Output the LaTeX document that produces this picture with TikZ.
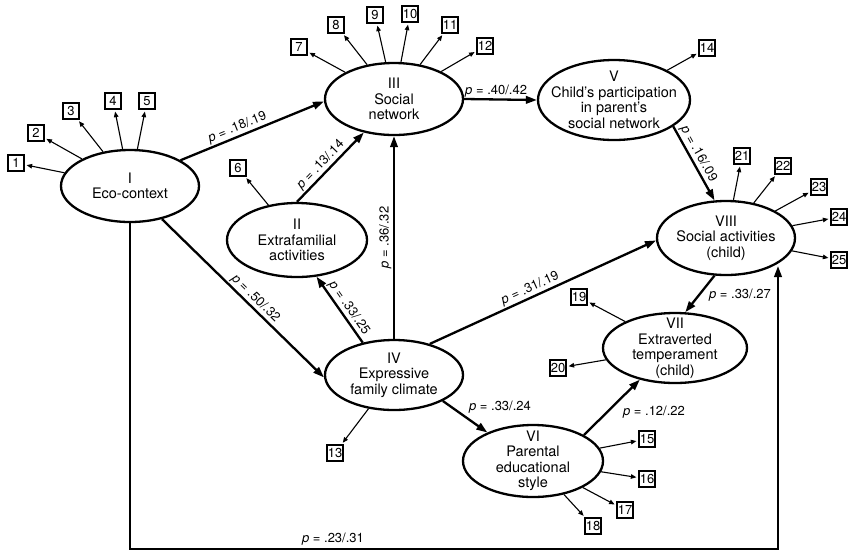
\documentclass[tikz,border=0pt]{standalone}
\usepackage{fontspec}
\setmainfont{TeX Gyre Heros}
\usetikzlibrary{shapes.geometric,arrows.meta}
\begin{document}
\begin{tikzpicture}[x=1pt,y=-1pt,
  latent/.style={ellipse, draw, line width=2.3pt, inner sep=0pt},
  ltext/.style={align=center, font=\fontsize{14.5}{15.5}\selectfont, inner sep=0pt},
  ibox/.style={draw, line width=1.3pt, minimum size=16pt, inner sep=0.3pt, font=\fontsize{13}{13}\selectfont},
  ind/.style={line width=1.1pt, -{Triangle[length=5.5pt,width=4.5pt]}, shorten >=2pt},
  mainarr/.style={line width=2.3pt, -{Triangle[length=11pt,width=7.5pt]}},
  plab/.style={font=\fontsize{13}{13}\selectfont, inner sep=1.5pt}
]
\useasboundingbox (0,0) rectangle (865,558);

% latent variables
\node[latent, minimum width=138pt, minimum height=72pt] (I) at (130,186) {};
\node[ltext] (tI) at (I) {I\\Eco-context};
\node[latent, minimum width=140pt, minimum height=74pt] (II) at (297,240) {};
\node[ltext] (tII) at (II) {II\\Extrafamilial\\activities};
\node[latent, minimum width=138pt, minimum height=72pt] (III) at (394,99) {};
\node[ltext] (tIII) at (III) {III\\Social\\network};
\node[latent, minimum width=152pt, minimum height=80pt] (V) at (614,100) {};
\node[ltext] (tV) at (V) {V\\Child's participation\\in parent's\\social network};
\node[latent, minimum width=138pt, minimum height=74pt] (VIII) at (726,238) {};
\node[ltext] (tVIII) at (VIII) {VIII\\Social activities\\(child)};
\node[latent, minimum width=144pt, minimum height=70pt] (VII) at (675,348) {};
\node[ltext] (tVII) at (VII) {VII\\Extraverted\\temperament\\(child)};
\node[latent, minimum width=138pt, minimum height=70pt] (IV) at (394,375) {};
\node[ltext] (tIV) at (IV) {IV\\Expressive\\family climate};
\node[latent, minimum width=140pt, minimum height=72pt] (VI) at (533,461) {};
\node[ltext] (tVI) at (VI) {VI\\Parental\\educational\\style};

% indicator boxes
\node[ibox] (b1) at (16,163) {1};
\node[ibox] (b2) at (36,133) {2};
\node[ibox] (b3) at (71,111) {3};
\node[ibox] (b4) at (113,101) {4};
\node[ibox] (b5) at (147,101) {5};
\node[ibox] (b6) at (238,168) {6};
\node[ibox] (b7) at (299,47) {7};
\node[ibox] (b8) at (336,25) {8};
\node[ibox] (b9) at (375,15) {9};
\node[ibox] (b10) at (410,14) {10};
\node[ibox] (b11) at (450,25) {11};
\node[ibox] (b12) at (485,46) {12};
\node[ibox] (b13) at (335,453) {13};
\node[ibox] (b14) at (707,48) {14};
\node[ibox] (b15) at (647,439) {15};
\node[ibox] (b16) at (647,479) {16};
\node[ibox] (b17) at (625,510) {17};
\node[ibox] (b18) at (593,526) {18};
\node[ibox] (b19) at (579,297) {19};
\node[ibox] (b20) at (558,368) {20};
\node[ibox] (b21) at (742,156) {21};
\node[ibox] (b22) at (783,166) {22};
\node[ibox] (b23) at (819,187) {23};
\node[ibox] (b24) at (839,217) {24};
\node[ibox] (b25) at (839,260) {25};

% indicator connectors
\foreach \b in {1,...,5} {\draw[ind] (I) -- (b\b);}
\draw[ind] (II) -- (b6);
\foreach \b in {7,...,12} {\draw[ind] (III) -- (b\b);}
\draw[ind] (IV) -- (b13);
\draw[ind] (V) -- (b14);
\foreach \b in {15,...,18} {\draw[ind] (VI) -- (b\b);}
\draw[ind] (VII) -- (b19);
\draw[ind] (VII) -- (b20);
\foreach \b in {21,...,25} {\draw[ind] (VIII) -- (b\b);}

% structural paths
\draw[mainarr] (I.27) -- node[plab, pos=.42, sloped, above] {\textit{p} = .18/.19} (III.182);
\draw[mainarr] (II.90) -- node[plab, pos=.45, sloped, above] {\textit{p} = .13/.14} (III.228);
\draw[mainarr] (IV.90) -- node[plab, pos=.5, sloped, above] {\textit{p} = .36/.32} (III.270);
\draw[mainarr] (IV.134) -- node[plab, pos=.45, sloped, above] {\textit{p} = .33/.25} (II.298);
\draw[mainarr] (I.314) -- node[plab, pos=.54, sloped, above] {\textit{p} = .50/.32} (IV.182);
\draw[mainarr] (IV.41) -- node[plab, pos=.46, sloped, above] {\textit{p} = .31/.19} (VIII.182);
\draw[mainarr] (III.0) -- node[plab, pos=.44, above] {\textit{p} = .40/.42} (V.180);
\draw[mainarr] (V.336) -- node[plab, pos=.43, sloped, above] {\textit{p} = .16/.09} (VIII.107);
\draw[mainarr] (VIII.253) -- (VII.74);
\node[plab] (l9) at (740,295) {\textit{p} = .33/.27};
\draw[mainarr] (IV.332) -- (VI.148);
\node[plab] (l10) at (500,407) {\textit{p} = .33/.24};
\draw[mainarr] (VI.27) -- (VII.222);
\node[plab] (l11) at (654,412) {\textit{p} = .12/.22};

\coordinate (c1) at (130,549);
\coordinate (c2) at (778,549);
\coordinate (c3) at (778,266);
\draw[mainarr, line join=miter] (I.270) -- (c1) -- (c2) -- (c3);
\node[plab] (l12) at (333,539) {\textit{p} = .23/.31};
\end{tikzpicture}
\end{document}
